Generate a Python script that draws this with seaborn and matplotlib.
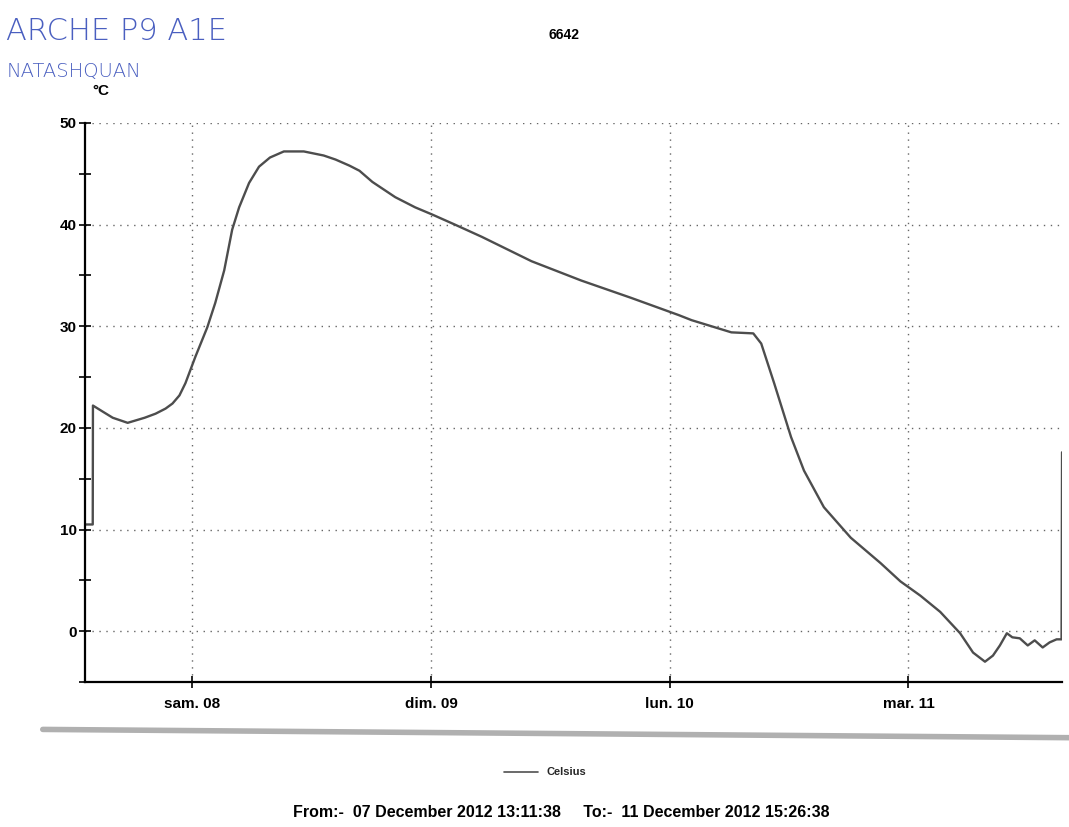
import numpy as np
import pandas as pd
import matplotlib
matplotlib.use("Agg")
import matplotlib.pyplot as plt
from matplotlib.lines import Line2D
import seaborn as sns

# logger readings: hours since start of record, temperature in Celsius
start = pd.Timestamp("2012-12-07 13:11:38")
end = pd.Timestamp("2012-12-11 15:26:38")
hours = [0.0, 0.78, 0.8, 1.79, 2.79, 4.29, 6.0, 7.1, 8.1, 8.8, 9.5, 10.1, 11.1,
         12.3, 13.1, 14.0, 14.8, 15.5, 16.5, 17.5, 18.6, 20.0, 22.0, 24.0,
         25.2, 26.6, 27.6, 28.9, 31.2, 33.2, 34.9, 37.2, 39.9, 44.9, 49.9, 54.9,
         59.7, 61.0, 63.0, 65.0, 67.2, 68.0, 69.3, 71.0, 72.3, 74.3, 77.0,
         80.0, 82.0, 84.0, 86.0, 88.0, 89.3, 90.5, 91.3, 92.0, 92.7, 93.25,
         94.0, 94.8, 95.5, 96.3, 97.0, 97.7, 98.2, 98.25]
celsius = [10.5, 10.5, 22.2, 21.6, 21.0, 20.5, 21.0, 21.4, 21.9, 22.4, 23.2, 24.4, 27.0,
           29.9, 32.3, 35.5, 39.5, 41.7, 44.1, 45.7, 46.6, 47.2, 47.2, 46.8,
           46.4, 45.8, 45.3, 44.2, 42.7, 41.7, 41.0, 40.0, 38.8, 36.4, 34.5, 32.8,
           31.1, 30.6, 30.0, 29.4, 29.3, 28.3, 24.4, 19.1, 15.8, 12.2, 9.2,
           6.7, 4.9, 3.5, 1.9, -0.2, -2.1, -3.0, -2.4, -1.4, -0.2, -0.6,
           -0.7, -1.4, -0.9, -1.6, -1.1, -0.8, -0.8, 17.6]
day_ticks = ["2012-12-08", "2012-12-09", "2012-12-10", "2012-12-11"]
day_labels = ["sam. 08", "dim. 09", "lun. 10", "mar. 11"]

df = pd.DataFrame({"time": start + pd.to_timedelta(hours, unit="h"), "Celsius": celsius})

sns.set_style("white")
plt.rcParams["font.family"] = ["Liberation Sans", "DejaVu Sans"]

fig = plt.figure(figsize=(10.69, 8.27), dpi=100)
ax = fig.add_axes([0.0795, 0.1753, 0.914, 0.676])

sns.lineplot(data=df, x="time", y="Celsius", ax=ax, color="#4d4d4d", linewidth=1.7)

ax.set_xlim(start, end)
ax.set_ylim(-5, 50)
ax.set_yticks(range(0, 51, 10))
ax.set_yticks(range(-5, 50, 10), minor=True)
ax.set_xticks(pd.to_datetime(day_ticks))
ax.set_xticklabels(day_labels)
ax.grid(True, which="major", linestyle=(0, (1, 4)), color="#666666", linewidth=1.0)
ax.tick_params(axis="y", which="both", direction="inout", length=8, width=1.2, left=True,
               labelsize=11, pad=2, colors="black")
ax.tick_params(axis="x", direction="inout", length=8, width=1.2, bottom=True,
               labelsize=11, pad=7, colors="black")
for lab in ax.get_xticklabels() + ax.get_yticklabels():
    lab.set_fontweight("bold")
ax.set_xlabel("")
ax.set_ylabel("")
for side in ["top", "right"]:
    ax.spines[side].set_visible(False)
for side in ["left", "bottom"]:
    ax.spines[side].set_color("black")
    ax.spines[side].set_linewidth(1.6)

fig.text(0.0862, 0.885, "°C", fontsize=11, fontweight="bold", color="black")
fig.text(0.528, 0.958, "6642", fontsize=10, fontweight="bold", ha="center", va="center",
         color="black")

# handwritten notes in blue ink
fig.text(0.006, 0.962, "ARCHE P9 A1E", fontsize=22, color="#4a5fc0",
         family="DejaVu Sans", fontweight="light", va="center")
fig.text(0.006, 0.914, "NATASHQUAN", fontsize=14, color="#4a5fc0",
         family="DejaVu Sans", fontweight="light", va="center")

# scan edge under the plot
fig.add_artist(Line2D([0.04, 1.0], [0.118, 0.108], color="#b0b0b0", linewidth=4,
                      transform=fig.transFigure))

handle = Line2D([], [], color="#505050", linewidth=1.2)
leg = fig.legend([handle], ["Celsius"], loc="center", bbox_to_anchor=(0.51, 0.066),
                 frameon=False, handlelength=3.0, prop={"size": 8, "weight": "bold"})

fig.text(0.525, 0.018, "From:-  07 December 2012 13:11:38     To:-  11 December 2012 15:26:38",
         fontsize=11.5, fontweight="bold", ha="center", va="center", color="black")

fig.savefig("out.png", dpi=100)
